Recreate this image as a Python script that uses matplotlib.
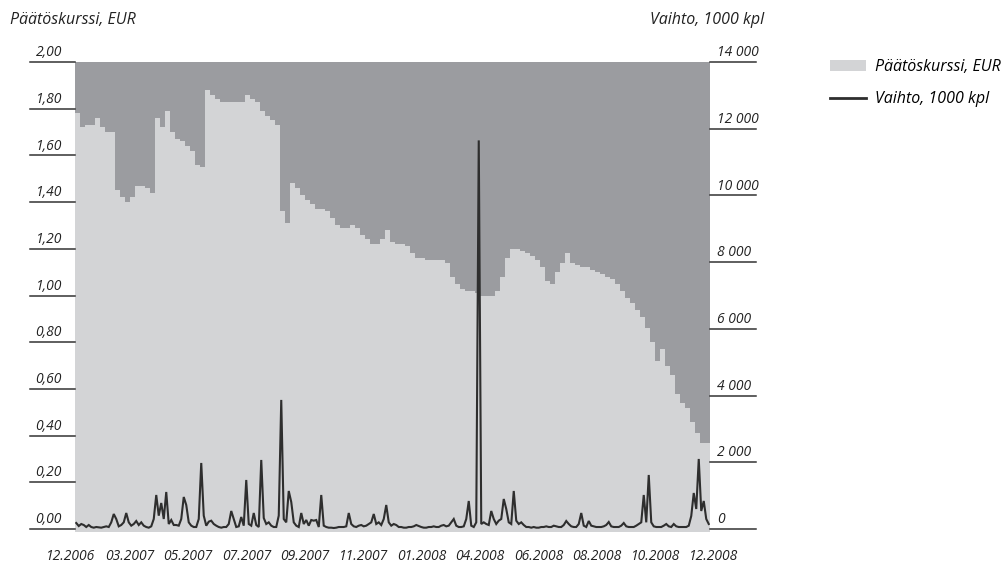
import numpy as np
import matplotlib.pyplot as plt
from matplotlib.patches import Patch
from matplotlib.lines import Line2D
from matplotlib.transforms import blended_transform_factory

plt.rcParams['font.family'] = ['Open Sans', 'DejaVu Sans']

# Päätöskurssi (EUR), yksi arvo joka toiselle havainnolle
hinta = [
    1.78, 1.72, 1.73, 1.73, 1.76, 1.72, 1.70, 1.70, 1.45, 1.42,
    1.40, 1.42, 1.47, 1.47, 1.46, 1.44, 1.76, 1.72, 1.79, 1.70,
    1.67, 1.66, 1.64, 1.62, 1.56, 1.55, 1.88, 1.86, 1.84, 1.83,
    1.83, 1.83, 1.83, 1.83, 1.86, 1.84, 1.83, 1.79, 1.77, 1.75,
    1.73, 1.36, 1.31, 1.48, 1.46, 1.43, 1.41, 1.39, 1.37, 1.37,
    1.36, 1.33, 1.30, 1.29, 1.29, 1.30, 1.29, 1.26, 1.24, 1.22,
    1.22, 1.24, 1.28, 1.23, 1.22, 1.22, 1.21, 1.18, 1.16, 1.16,
    1.15, 1.15, 1.15, 1.15, 1.14, 1.08, 1.05, 1.03, 1.02, 1.02,
    1.01, 1.00, 1.00, 1.00, 1.02, 1.08, 1.16, 1.20, 1.20, 1.19,
    1.18, 1.17, 1.15, 1.12, 1.06, 1.05, 1.10, 1.14, 1.18, 1.14,
    1.13, 1.12, 1.12, 1.11, 1.10, 1.09, 1.08, 1.07, 1.05, 1.02,
    0.99, 0.97, 0.94, 0.91, 0.86, 0.80, 0.72, 0.77, 0.70, 0.66,
    0.58, 0.54, 0.52, 0.46, 0.41, 0.37, 0.37,
]

# Vaihto (1000 kpl)
vaihto = [
    180, 90, 150, 120, 60, 120, 60, 40, 60, 50,
    40, 60, 80, 60, 200, 450, 300, 80, 120, 200,
    480, 200, 100, 150, 240, 120, 200, 100, 60, 40,
    80, 300, 1020, 400, 780, 300, 1110, 150, 270, 120,
    120, 100, 300, 960, 720, 200, 100, 60, 60, 300,
    1980, 400, 100, 220, 250, 150, 100, 60, 40, 60,
    60, 150, 540, 300, 60, 80, 360, 100, 1470, 150,
    100, 480, 120, 60, 2070, 330, 150, 200, 100, 60,
    60, 400, 3870, 300, 200, 1140, 810, 200, 100, 60,
    480, 150, 270, 100, 270, 250, 270, 60, 1020, 100,
    60, 40, 40, 30, 40, 60, 60, 60, 80, 480,
    150, 80, 60, 100, 120, 80, 100, 150, 200, 450,
    150, 200, 120, 300, 720, 200, 100, 150, 120, 60,
    60, 40, 40, 60, 60, 80, 120, 90, 60, 40,
    40, 60, 60, 80, 60, 60, 100, 120, 80, 100,
    200, 300, 100, 60, 60, 80, 300, 840, 100, 60,
    200, 11650, 150, 200, 150, 120, 540, 300, 150, 250,
    300, 900, 600, 200, 150, 1140, 250, 150, 200, 120,
    60, 60, 40, 60, 40, 40, 60, 60, 80, 60,
    60, 100, 80, 60, 60, 120, 240, 150, 80, 60,
    60, 150, 480, 100, 60, 240, 100, 80, 60, 60,
    60, 80, 120, 210, 80, 60, 60, 60, 100, 180,
    80, 60, 60, 60, 100, 150, 200, 1020, 200, 1620,
    200, 80, 60, 60, 60, 100, 150, 80, 60, 150,
    80, 60, 60, 60, 60, 100, 390, 1080, 600, 2100,
    540, 840, 300, 150,
]

kuukaudet = ['12.2006', '03.2007', '05.2007', '07.2007', '09.2007', '11.2007',
             '01.2008', '04.2008', '06.2008', '08.2008', '10.2008', '12.2008']
vasen_ticks = [0.0, 0.2, 0.4, 0.6, 0.8, 1.0, 1.2, 1.4, 1.6, 1.8, 2.0]
oikea_ticks = [0, 2000, 4000, 6000, 8000, 10000, 12000, 14000]

W, H = 1008, 565
tumma = '#9b9ca0'
vaalea = '#d3d4d6'
viiva = '#2e2e2e'
teksti = '#222222'

fig = plt.figure(figsize=(W / 100, H / 100), dpi=100)
ax = fig.add_axes([75 / W, 33 / H, 635 / W, 470 / H])
ax.set_facecolor(tumma)
for s in ax.spines.values():
    s.set_visible(False)

n = len(vaihto)
x_h = np.arange(len(hinta) + 1) * 2
y_h = hinta + [hinta[-1]]
alin = -0.0128
ax.fill_between(x_h, y_h, alin, step='post', color=vaalea, linewidth=0)
ax.set_xlim(0, n)
ax.set_ylim(alin, 2.0)
ax.set_xticks([])
ax.set_yticks([])

ax2 = ax.twinx()
for s in ax2.spines.values():
    s.set_visible(False)
ax2.plot(np.arange(n) + 0.5, vaihto, color=viiva, lw=1.5, solid_joinstyle='miter')
ax2.set_ylim(alin * 7000, 14000)
ax2.set_xlim(0, n)
ax2.set_yticks([])

# akselien viivat ja luvut
tr_l = blended_transform_factory(fig.transFigure, ax.transData)
for v in vasen_ticks:
    ax.add_line(Line2D([30 / W, 75 / W], [v, v], transform=tr_l, color='#333333',
                       lw=1.1, clip_on=False))
    ax.text(62 / W, v + 0.008, f'{v:.2f}'.replace('.', ','), transform=tr_l,
            ha='right', va='bottom', fontsize=10, style='italic', color=teksti)

tr_r = blended_transform_factory(fig.transFigure, ax2.transData)
for v in oikea_ticks:
    ax2.add_line(Line2D([710 / W, 756 / W], [v, v], transform=tr_r, color='#333333',
                        lw=1.1, clip_on=False))
    ax2.text(717 / W, v + 56, f'{v:,}'.replace(',', ' '), transform=tr_r,
             ha='left', va='bottom', fontsize=10, style='italic', color=teksti)

tr_x = blended_transform_factory(ax.transData, fig.transFigure)
paikat = np.linspace(-1.6, n + 1.6, len(kuukaudet))
for p, k in zip(paikat, kuukaudet):
    ax.text(p, 1 - 556 / H, k, transform=tr_x, ha='center', va='center',
            fontsize=10, style='italic', color=teksti)

fig.text(10 / W, 1 - 20 / H, 'Päätöskurssi, EUR', ha='left', va='center',
         fontsize=11.5, style='italic', color=teksti)
fig.text(650 / W, 1 - 20 / H, 'Vaihto, 1000 kpl', ha='left', va='center',
         fontsize=11.5, style='italic', color=teksti)

kahvat = [Patch(facecolor=vaalea, edgecolor='none'),
          Line2D([0], [0], color=viiva, lw=2)]
fig.legend(kahvat, ['Päätöskurssi, EUR', 'Vaihto, 1000 kpl'], loc='upper left',
           bbox_to_anchor=(816 / W, 1 - 45 / H), frameon=False, handlelength=2.2,
           handletextpad=0.6, labelspacing=1.0,
           prop={'size': 11.5, 'style': 'italic'})

fig.savefig('out.png', dpi=100)
